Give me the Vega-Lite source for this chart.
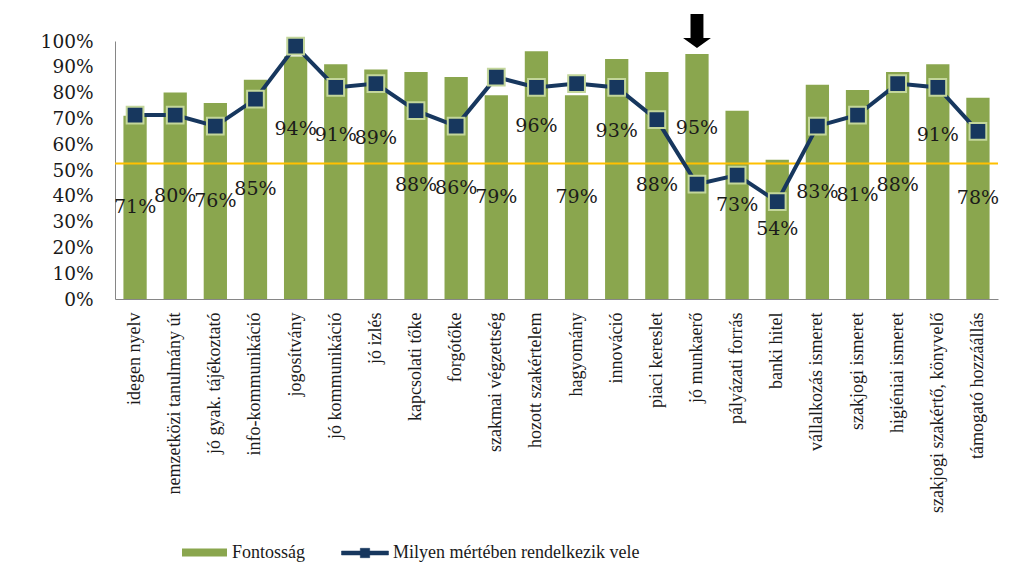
{
  "$schema": "https://vega.github.io/schema/vega-lite/v6.json",
  "width": 883,
  "height": 258,
  "autosize": {"type": "none"},
  "padding": {"left": 115, "top": 41, "right": 23, "bottom": 280},
  "background": "white",
  "config": {"view": {"stroke": null}, "font": "DejaVu Serif"},
  "datasets": {
    "main": [
      {"kat": "idegen nyelv", "F": 0.71, "M": 0.713},
      {"kat": "nemzetközi tanulmány út", "F": 0.80, "M": 0.713},
      {"kat": "jó gyak. tájékoztató", "F": 0.76, "M": 0.67},
      {"kat": "info-kommunikáció", "F": 0.85, "M": 0.775},
      {"kat": "jogosítvány", "F": 0.94, "M": 0.98},
      {"kat": "jó kommunikáció", "F": 0.91, "M": 0.82},
      {"kat": "jó izlés", "F": 0.89, "M": 0.835},
      {"kat": "kapcsolati tőke", "F": 0.88, "M": 0.73},
      {"kat": "forgótőke", "F": 0.86, "M": 0.67},
      {"kat": "szakmai végzettség", "F": 0.79, "M": 0.86},
      {"kat": "hozott szakértelem", "F": 0.96, "M": 0.82},
      {"kat": "hagyomány", "F": 0.79, "M": 0.835},
      {"kat": "innováció", "F": 0.93, "M": 0.82},
      {"kat": "piaci kereslet", "F": 0.88, "M": 0.695},
      {"kat": "jó munkaerő", "F": 0.95, "M": 0.445},
      {"kat": "pályázati forrás", "F": 0.73, "M": 0.48},
      {"kat": "banki hitel", "F": 0.54, "M": 0.377},
      {"kat": "vállalkozás ismeret", "F": 0.83, "M": 0.67},
      {"kat": "szakjogi ismeret", "F": 0.81, "M": 0.713},
      {"kat": "higiéniai ismeret", "F": 0.88, "M": 0.835},
      {"kat": "szakjogi szakértő, könyvelő", "F": 0.91, "M": 0.82},
      {"kat": "támogató hozzáállás", "F": 0.78, "M": 0.65}
    ],
    "threshold": [{"ref": 0.525}]
  },
  "data": {"name": "main"},
  "resolve": {"scale": {"y": "independent"}},
  "layer": [
    {
      "mark": {"type": "bar", "color": "#8aa64e"},
      "encoding": {
        "x": {
          "field": "kat", "type": "nominal", "sort": null,
          "scale": {"paddingInner": 0.42, "paddingOuter": 0.21},
          "axis": {
            "title": null, "labelAngle": -90, "ticks": false,
            "domainColor": "#868686", "labelFont": "Liberation Serif",
            "labelFontSize": 18, "labelPadding": 13, "labelLimit": 300,
            "labelColor": "#1a1a1a"
          }
        },
        "y": {
          "field": "F", "type": "quantitative",
          "scale": {"domain": [0, 1]},
          "axis": {
            "title": null, "format": ".0%",
            "values": [0, 0.1, 0.2, 0.3, 0.4, 0.5, 0.6, 0.7, 0.8, 0.9, 1],
            "grid": false, "ticks": false, "domainColor": "#868686",
            "labelFont": "DejaVu Serif", "labelFontSize": 18.5,
            "labelColor": "#1a1a1a", "labelPadding": 22
          }
        },
        "fill": {
          "datum": "Fontosság",
          "scale": {"range": ["#8aa64e"]},
          "legend": {
            "title": null, "orient": "none", "legendX": 67, "legendY": 489,
            "symbolType": "M-1,-0.18H1V0.18H-1Z", "symbolSize": 2025,
            "symbolStrokeWidth": 0, "labelFont": "Liberation Serif",
            "labelFontSize": 18, "labelOffset": 5, "labelColor": "#1a1a1a"
          }
        }
      }
    },
    {
      "data": {"name": "threshold"},
      "mark": {"type": "rule", "color": "#ffc000", "strokeWidth": 2},
      "encoding": {
        "y": {"field": "ref", "type": "quantitative", "scale": {"domain": [0, 1]}, "axis": null}
      }
    },
    {
      "mark": {"type": "line", "strokeWidth": 4},
      "encoding": {
        "x": {"field": "kat", "type": "nominal", "sort": null},
        "y": {"field": "M", "type": "quantitative", "scale": {"domain": [0, 1]}, "axis": null},
        "stroke": {
          "datum": "Milyen mértében rendelkezik vele",
          "scale": {"range": ["#17375e"]},
          "legend": {
            "title": null, "orient": "none", "legendX": 226, "legendY": 488,
            "symbolType": "M-1,-0.085H1V0.085H-1Z M-0.2,-0.2H0.2V0.2H-0.2Z",
            "symbolSize": 2209, "symbolFillColor": "#17375e",
            "symbolStrokeWidth": 0.5, "labelFont": "Liberation Serif",
            "labelFontSize": 18, "labelOffset": 4, "labelColor": "#1a1a1a",
            "labelLimit": 400,
            "encode": {"symbols": {"update": {"fill": {"value": "#17375e"}}}}
          }
        }
      }
    },
    {
      "mark": {"type": "point", "shape": "square", "filled": true, "fill": "#17375e", "stroke": "#c3d69b", "strokeWidth": 2, "size": 280, "opacity": 1},
      "encoding": {
        "x": {"field": "kat", "type": "nominal", "sort": null},
        "y": {"field": "M", "type": "quantitative", "scale": {"domain": [0, 1]}, "axis": null}
      }
    },
    {
      "transform": [{"filter": "datum.F < 0.885"}],
      "mark": {"type": "text", "font": "DejaVu Serif", "fontSize": 19, "color": "#1a1a1a"},
      "encoding": {
        "x": {"field": "kat", "type": "nominal", "sort": null},
        "y": {"field": "F", "type": "quantitative", "scale": {"domain": [0, 2]}, "axis": null},
        "text": {"field": "F", "type": "quantitative", "format": ".0%"}
      }
    },
    {
      "transform": [{"filter": "datum.F >= 0.885"}],
      "mark": {"type": "text", "font": "DejaVu Serif", "fontSize": 19, "color": "#1a1a1a"},
      "encoding": {
        "x": {"field": "kat", "type": "nominal", "sort": null},
        "y": {"field": "F", "type": "quantitative", "scale": {"domain": [0, 1.43]}, "axis": null},
        "text": {"field": "F", "type": "quantitative", "format": ".0%"}
      }
    },
    {
      "transform": [{"filter": "datum.kat == 'jó munkaerő'"}],
      "mark": {"type": "point", "shape": "M-0.38,-1H0.38V0.41H0.82L0,1L-0.82,0.41H-0.38Z", "filled": true, "color": "black", "size": 1156, "opacity": 1},
      "encoding": {
        "x": {"field": "kat", "type": "nominal", "sort": null},
        "y": {"datum": 1.039, "type": "quantitative", "scale": {"domain": [0, 1]}, "axis": null}
      }
    }
  ]
}
